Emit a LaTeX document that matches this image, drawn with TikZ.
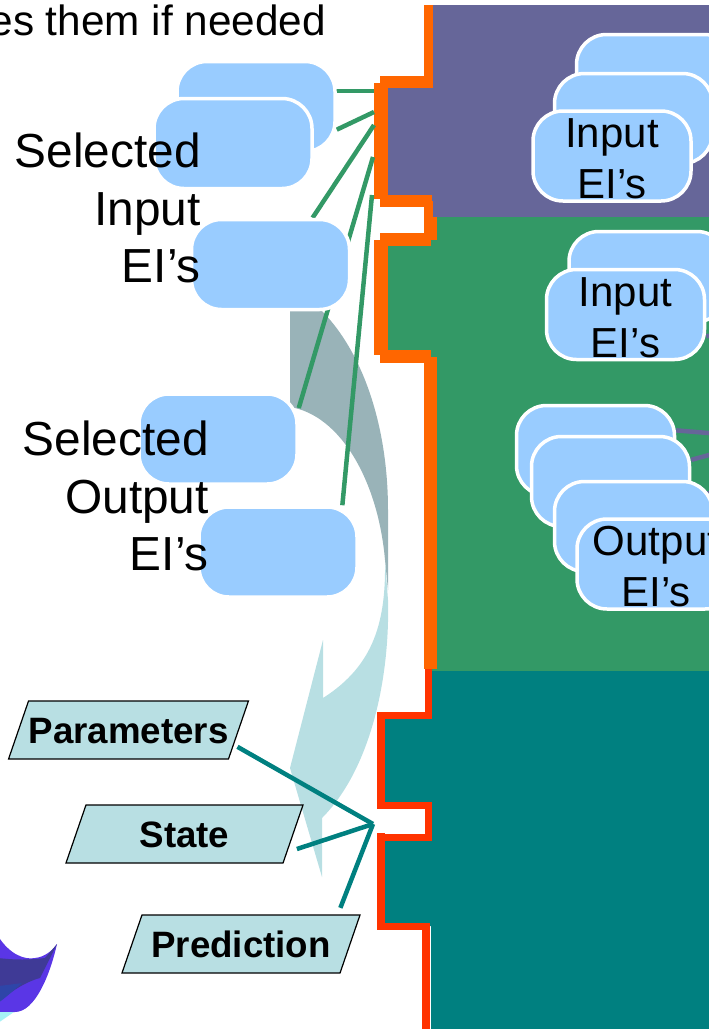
\documentclass[tikz,border=0pt]{standalone}
\usepackage{fontspec}
\setmainfont{Liberation Sans}
\usetikzlibrary{shapes.geometric}
\pgfdeclarelayer{back}
\pgfdeclarelayer{lines}
\pgfsetlayers{back,lines,main}
\definecolor{eiblue}{HTML}{99CCFF}
\definecolor{panelpurple}{HTML}{666699}
\definecolor{panelgreen}{HTML}{339966}
\definecolor{panelteal}{HTML}{008080}
\definecolor{edgeorange}{HTML}{FF6600}
\definecolor{edgered}{HTML}{FF3300}
\definecolor{lightteal}{HTML}{B8DFE3}
\definecolor{greyteal}{HTML}{99B3B8}
\definecolor{blobviolet}{HTML}{5A36E6}
\definecolor{blobdark}{HTML}{3F3A96}
\definecolor{blobblue}{HTML}{2E45A8}
\definecolor{blobcyan}{HTML}{A6F2F5}
\begin{document}
\begin{tikzpicture}[x=1pt,y=-1pt,
  eibox/.style={rectangle, rounded corners=30pt, fill=eiblue, draw=white, line width=3.5pt, minimum width=158pt, minimum height=90pt, inner sep=0pt, align=center, font=\fontsize{42}{51}\selectfont},
  sidetext/.style={anchor=east, align=right, inner sep=0pt, font=\fontsize{47.8}{57.5}\selectfont},
  databox/.style={trapezium, trapezium left angle=71, trapezium right angle=109, trapezium stretches body, fill=lightteal, draw=black, line width=1.2pt, text height=42pt, text depth=16pt, inner ysep=0pt, inner xsep=0pt, font=\fontsize{36.7}{44}\selectfont\bfseries},
  greenline/.style={draw=panelgreen, line width=4.5pt},
  purpleline/.style={draw=panelpurple, line width=4.5pt},
  tealline/.style={draw=panelteal, line width=4.5pt},
  orangeline/.style={draw=edgeorange},
  redline/.style={draw=edgered}]
\useasboundingbox (0,0) rectangle (709,1029);
\begin{pgfonlayer}{back}
\fill[panelpurple] (433,5) -- (709,5) -- (709,217) -- (433,217) -- (433,201) -- (381,201) -- (381,82) -- (433,82) -- cycle;
\fill[panelgreen] (437,217) -- (709,217) -- (709,671) -- (431,671) -- (431,356) -- (381,356) -- (381,240) -- (431,240) -- (437,217) -- cycle;
\fill[panelteal] (432,671) -- (709,671) -- (709,1029) -- (431,1029) -- (431,926) -- (381,926) -- (381,837) -- (429,837) -- (429,805) -- (381,805) -- (381,715) -- (429,715) -- (429,671) -- cycle;
\draw[orangeline, line width=9pt] (428.5,5) -- (428.5,88);
\draw[orangeline, line width=12pt] (380,82) -- (433,82);
\draw[orangeline, line width=14pt] (381,83) -- (381,199);
\draw[orangeline, line width=12pt] (380,201) -- (432,201);
\draw[orangeline, line width=9pt] (428.5,201) -- (428.5,218);
\draw[orangeline, line width=13pt] (430.5,217) -- (430.5,240);
\draw[orangeline, line width=13pt] (380,239.5) -- (431,239.5);
\draw[orangeline, line width=14pt] (381,240) -- (381,355);
\draw[orangeline, line width=13pt] (380,356.5) -- (431,356.5);
\draw[orangeline, line width=13pt] (430.5,357) -- (430.5,669);
\draw[redline, line width=7pt] (428.5,669) -- (428.5,719);
\draw[redline, line width=7pt] (377,715.5) -- (432,715.5);
\draw[redline, line width=8pt] (381,712) -- (381,809);
\draw[redline, line width=7pt] (377,805.5) -- (432,805.5);
\draw[redline, line width=7pt] (428.5,802) -- (428.5,841);
\draw[redline, line width=7pt] (377,837) -- (432,837);
\draw[redline, line width=8pt] (381,833) -- (381,930);
\draw[redline, line width=7pt] (377,926.5) -- (430,926.5);
\draw[redline, line width=8pt] (426,923) -- (426,1029);
\fill[greyteal] (290,311) -- (322,311) .. controls (365,355) and (388,430) .. (388,510) -- (388,590) -- (385,560) .. controls (378,480) and (340,415) .. (290,407) -- cycle;
\fill[lightteal] (385,560) -- (388,600) .. controls (390,680) and (370,770) .. (322,818) -- (322,877) -- (290,768) -- (323,640) -- (323,698) .. controls (375,665) and (386,620) .. (385,560) -- cycle;
\fill[blobviolet] (-2,936) .. controls (10,955) and (25,960) .. (35,958) .. controls (45,957) and (53,950) .. (57,944) .. controls (50,975) and (35,1012) .. (15,1012) -- (-2,1012) -- cycle;
\fill[blobdark] (-2,958) .. controls (15,960) and (30,960) .. (45,958) -- (57,944) -- (40,978) .. controls (25,982) and (10,992) .. (-2,1003) -- cycle;
\fill[blobblue] (-2,986) .. controls (8,985) and (15,984) .. (22,983) .. controls (12,992) and (5,998) .. (-2,1003) -- cycle;
\fill[blobcyan] (-2,1012) -- (14,1012) -- (-2,1023) -- cycle;
\end{pgfonlayer}
\coordinate (port0) at (374,91);
\coordinate (port1) at (374,112);
\coordinate (port2) at (374,125);
\coordinate (port3) at (373,157);
\coordinate (port4) at (372,195);
\coordinate (port5) at (373,824);
\coordinate (out0) at (720,434);
\coordinate (out1) at (720,452);
\coordinate (out2) at (716,490);
\coordinate (out3) at (720,335);
\node[eibox] (sel0) at (256,106.5){};
\node[eibox] (sel1) at (233,143.5){};
\node[eibox] (sel2) at (270.5,264.5){};
\node[eibox] (sel3) at (218,439){};
\node[eibox] (sel4) at (278,552){};
\node[sidetext] (seltext0) at (201,208){Selected\\Input\\EI’s};
\node[sidetext] (seltext1) at (209,496){Selected\\Output\\EI’s};
\node[anchor=base east, inner sep=0pt, font=\fontsize{42.3}{50}\selectfont] (title) at (326,35){es them if needed};
\node[eibox] (in0) at (655.5,79.5){};
\node[eibox] (in1) at (633.5,118.5){};
\node[eibox] (in2) at (612,156){\rule{0pt}{35pt}Input\\EI’s};
\node[eibox] (in3) at (648,276.5){};
\node[eibox] (in4) at (625.5,314.5){\rule{0pt}{35pt}Input\\EI’s};
\node[eibox] (op0) at (595.5,450.5){};
\node[eibox] (op1) at (610.5,481.5){};
\node[eibox] (op2) at (633.5,526.5){};
\node[eibox] (op3) at (656,564){\rule{0pt}{35pt}Output\\EI’s};
\node[databox, minimum width=237pt] (parameters) at (128.5,730){Parameters};
\node[databox, minimum width=237pt] (statebox) at (184.5,834){State};
\node[databox, minimum width=238pt] (prediction) at (241,944){Prediction};
\begin{pgfonlayer}{lines}
\draw[greenline] (sel0.center |- port0) -- (port0);
\draw[greenline] (sel0.-16) -- (port1);
\draw[greenline] (sel2.48) -- (port2);
\draw[greenline] (sel3.21) -- (port3);
\draw[greenline] (sel4.36) -- (port4);
\draw[purpleline] (op0.14) -- (out0);
\draw[purpleline] (op1.15) -- (out1);
\draw[purpleline] (op2.center) -- (out2);
\draw[purpleline] (in4.-15) -- (out3);
\draw[tealline, shorten <=4pt] (parameters.-8) -- (port5);
\draw[tealline, shorten <=10pt] (statebox.-10) -- (port5);
\draw[tealline, shorten <=7pt] (prediction.17) -- (port5);
\end{pgfonlayer}
\end{tikzpicture}
\end{document}
